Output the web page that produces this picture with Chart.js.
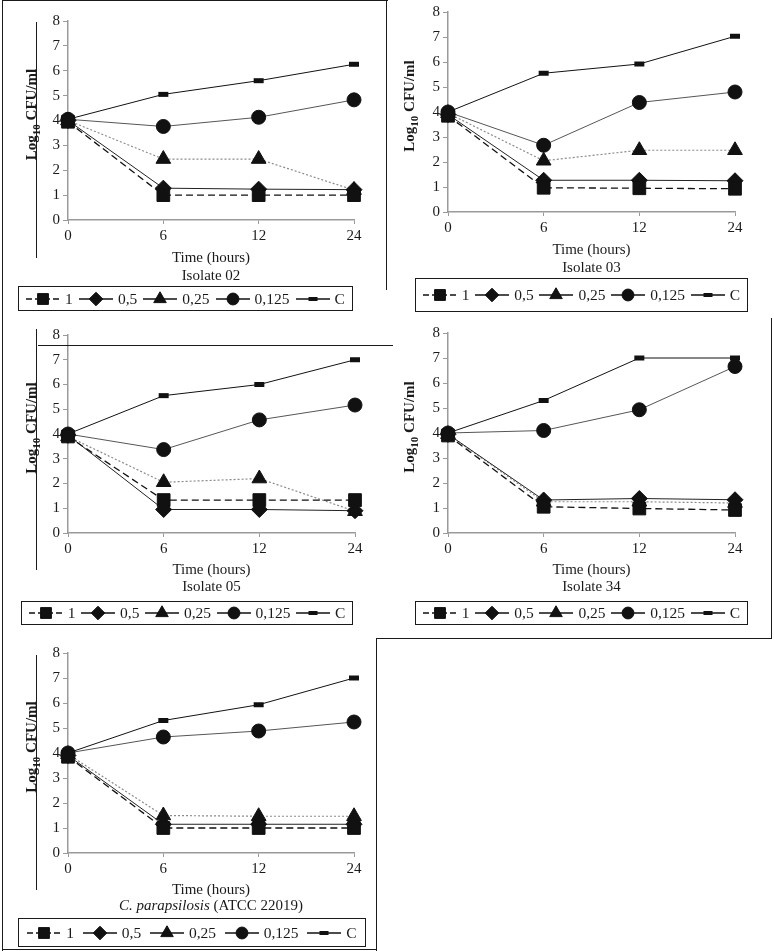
<!DOCTYPE html>
<html>
<head>
<meta charset="utf-8">
<script src="https://cdn.jsdelivr.net/npm/chart.js@4.4.0/dist/chart.umd.min.js"></script>
<style>
  body { margin: 0; background: #fff; }
  #page { position: relative; width: 774px; height: 951px; overflow: hidden; font-family: "Liberation Serif", serif; color: #1a1a1a; }
  #page > canvas { position: absolute; }
  .rule { position: absolute; background: #1a1a1a; }
  .caption { position: absolute; text-align: center; font-size: 15px; line-height: 18px; white-space: nowrap; }
  .legend { position: absolute; border: 1px solid #1a1a1a; box-sizing: border-box; display: flex; align-items: center; justify-content: space-around; padding: 0 4px; font-size: 15.5px; }
  .legend span.item { display: flex; align-items: center; white-space: nowrap; }
  .legend canvas { margin-right: 5px; }
</style>
</head>
<body>
<div id="page"></div>
<script>
// time points and concentrations
const hours = ["0", "6", "12", "24"];
const concentrations = ["1", "0,5", "0,25", "0,125", "C"];

// log10 CFU/ml, one row per concentration (1, 0,5, 0,25, 0,125, C)
const isolate02 = [
  [3.95, 1.0, 1.0, 1.0],
  [4.0, 1.28, 1.24, 1.22],
  [4.0, 2.45, 2.45, 1.2],
  [4.05, 3.76, 4.13, 4.83],
  [4.05, 5.05, 5.6, 6.26]
];
const isolate03 = [
  [3.85, 0.97, 0.95, 0.93],
  [3.9, 1.27, 1.27, 1.25],
  [3.95, 2.05, 2.47, 2.47],
  [4.0, 2.67, 4.38, 4.8],
  [4.0, 5.55, 5.92, 7.03]
];
const isolate05 = [
  [3.9, 1.33, 1.33, 1.33],
  [3.95, 0.95, 0.95, 0.9],
  [3.9, 2.05, 2.2, 0.88],
  [4.0, 3.37, 4.57, 5.17],
  [4.0, 5.55, 6.0, 7.0]
];
const isolate34 = [
  [3.9, 1.05, 0.98, 0.92],
  [3.95, 1.32, 1.38, 1.33],
  [3.95, 1.25, 1.25, 1.2],
  [4.0, 4.1, 4.93, 6.66],
  [4.0, 5.3, 7.0, 7.0]
];
const atcc22019 = [
  [3.85, 1.0, 1.0, 1.0],
  [3.9, 1.15, 1.15, 1.15],
  [3.95, 1.5, 1.47, 1.47],
  [4.0, 4.64, 4.88, 5.24],
  [4.0, 5.3, 5.93, 7.0]
];

const captions = ["Isolate 02", "Isolate 03", "Isolate 05", "Isolate 34", "<i>C. parapsilosis</i> (ATCC 22019)"];

const seriesStyle = [
  { pointStyle: "rect", pointRadius: 9, borderColor: "#111", borderWidth: 1.3, borderDash: [7, 4] },
  { pointStyle: "rectRot", pointRadius: 8, borderColor: "#222", borderWidth: 1 },
  { pointStyle: "triangle", pointRadius: 8.5, borderColor: "#8a8a8a", borderWidth: 1.2, borderDash: [2, 2] },
  { pointStyle: "circle", pointRadius: 7, borderColor: "#555", borderWidth: 1 },
  { pointStyle: "line", pointRadius: 5, pointBorderWidth: 5, borderColor: "#111", borderWidth: 1 }
];

// where each panel sits on the page
const panels = [
  { data: isolate02, cx: 0, cy: 0, L: 68, T: 21, R: 354, B: 220, titleY: 258, capY: 275, leg: [18, 286, 335, 25], ytx: 32 },
  { data: isolate03, cx: 385, cy: 0, L: 448, T: 12, R: 735, B: 212, titleY: 250, capY: 267, leg: [415, 278, 333, 34], ytx: 410 },
  { data: isolate05, cx: 0, cy: 318, L: 68, T: 335, R: 355, B: 533, titleY: 570, capY: 586, leg: [21, 601, 332, 24], ytx: 32 },
  { data: isolate34, cx: 385, cy: 318, L: 448, T: 333, R: 735, B: 533, titleY: 570, capY: 586, leg: [415, 601, 333, 24], ytx: 410 },
  { data: atcc22019, cx: 0, cy: 636, L: 68, T: 653, R: 354, B: 853, titleY: 890, capY: 905, leg: [18, 918, 348, 29], ytx: 32 }
];

// scan frame lines [left, top, width, height]
const rules = [
  [2, 0, 1, 951], [2, 0, 386, 1], [386, 0, 1, 290],
  [38, 345, 355, 1], [771, 318, 1, 321], [376, 638, 396, 1],
  [376, 638, 1, 313], [2, 949, 375, 1],
  [36, 22, 1, 236], [36, 329, 1, 241], [36, 655, 1, 235]
];

const page = document.getElementById("page");
const font = { family: "'Liberation Serif', serif", size: 15 };
const ink = "#1a1a1a";
const axisGrey = "#9a9a9a";

// y title with subscript 10
const yTitlePlugin = {
  id: "yTitle",
  afterDraw(chart, args, opts) {
    const ctx = chart.ctx;
    const a = chart.chartArea;
    ctx.save();
    ctx.translate(opts.x, (a.top + a.bottom) / 2 - 6);
    ctx.rotate(-Math.PI / 2);
    ctx.fillStyle = ink;
    ctx.textBaseline = "middle";
    const big = "bold 15px 'Liberation Serif', serif";
    const small = "bold 11px 'Liberation Serif', serif";
    ctx.font = big;
    const w1 = ctx.measureText("Log").width;
    const w3 = ctx.measureText(" CFU/ml").width;
    ctx.font = small;
    const w2 = ctx.measureText("10").width;
    let x = -(w1 + w2 + w3) / 2;
    ctx.font = big;
    ctx.fillText("Log", x, 0);
    x += w1;
    ctx.font = small;
    ctx.fillText("10", x, 5);
    x += w2;
    ctx.font = big;
    ctx.fillText(" CFU/ml", x, 0);
    ctx.restore();
  }
};

function drawSample(style, k) {
  const c = document.createElement("canvas");
  c.width = 34; c.height = 16;
  const ctx = c.getContext("2d");
  ctx.strokeStyle = "#111";
  ctx.lineWidth = 1.3;
  // only the "1" sample is dashed in the printed legends
  ctx.setLineDash(k === 0 ? [6, 3] : []);
  ctx.beginPath();
  ctx.moveTo(0, 8); ctx.lineTo(34, 8);
  ctx.stroke();
  ctx.setLineDash([]);
  ctx.fillStyle = "#111";
  const isLine = style.pointStyle === "line";
  ctx.lineWidth = isLine ? 4 : 1;
  Chart.helpers.drawPoint(ctx, {
    pointStyle: style.pointStyle,
    radius: isLine ? 4.5 : style.pointRadius * 0.85,
    rotation: 0,
    borderWidth: isLine ? 4 : 1
  }, 17, 8);
  return c;
}

panels.forEach((p, i) => {
  const cw = p.R - p.cx + 24;
  const ch = p.titleY + 9 - p.cy;
  const canvas = document.createElement("canvas");
  canvas.width = cw; canvas.height = ch;
  canvas.style.left = p.cx + "px";
  canvas.style.top = p.cy + "px";
  canvas.style.width = cw + "px";
  canvas.style.height = ch + "px";
  page.appendChild(canvas);

  const datasets = concentrations.map((name, k) => Object.assign({
    label: name,
    data: p.data[k],
    pointBackgroundColor: "#111",
    pointBorderColor: "#111",
    pointBorderWidth: 1,
    fill: false,
    tension: 0
  }, seriesStyle[k]));

  new Chart(canvas, {
    type: "line",
    data: { labels: hours, datasets: datasets },
    plugins: [yTitlePlugin],
    options: {
      responsive: false,
      animation: false,
      layout: { padding: { left: 0, top: p.T - p.cy, right: cw - (p.R - p.cx), bottom: 0 } },
      plugins: {
        legend: { display: false },
        tooltip: { enabled: false },
        yTitle: { x: p.ytx - p.cx }
      },
      scales: {
        x: {
          offset: false,
          grid: { drawOnChartArea: false, color: axisGrey, tickLength: 4 },
          border: { color: axisGrey, width: 1.5 },
          ticks: { font: font, color: ink, padding: 3, maxRotation: 0 },
          title: { display: true, text: "Time (hours)", font: font, color: ink, padding: 0 },
          afterFit: s => { s.height = ch - (p.B - p.cy); }
        },
        y: {
          min: 0, max: 8,
          grid: { drawOnChartArea: false, color: axisGrey, tickLength: 5 },
          border: { color: axisGrey, width: 1.5 },
          ticks: { stepSize: 1, font: font, color: ink, padding: 3 },
          afterFit: s => { s.width = p.L - p.cx; }
        }
      }
    }
  });

  const cap = document.createElement("div");
  cap.className = "caption";
  cap.style.left = p.L + "px";
  cap.style.width = (p.R - p.L) + "px";
  cap.style.top = (p.capY - 9) + "px";
  cap.innerHTML = captions[i];
  page.appendChild(cap);

  const leg = document.createElement("div");
  leg.className = "legend";
  leg.style.left = p.leg[0] + "px";
  leg.style.top = p.leg[1] + "px";
  leg.style.width = p.leg[2] + "px";
  leg.style.height = p.leg[3] + "px";
  concentrations.forEach((name, k) => {
    const item = document.createElement("span");
    item.className = "item";
    item.appendChild(drawSample(seriesStyle[k], k));
    item.appendChild(document.createTextNode(name));
    leg.appendChild(item);
  });
  page.appendChild(leg);
});

rules.forEach(r => {
  const d = document.createElement("div");
  d.className = "rule";
  d.style.left = r[0] + "px";
  d.style.top = r[1] + "px";
  d.style.width = r[2] + "px";
  d.style.height = r[3] + "px";
  page.appendChild(d);
});
</script>
</body>
</html>
